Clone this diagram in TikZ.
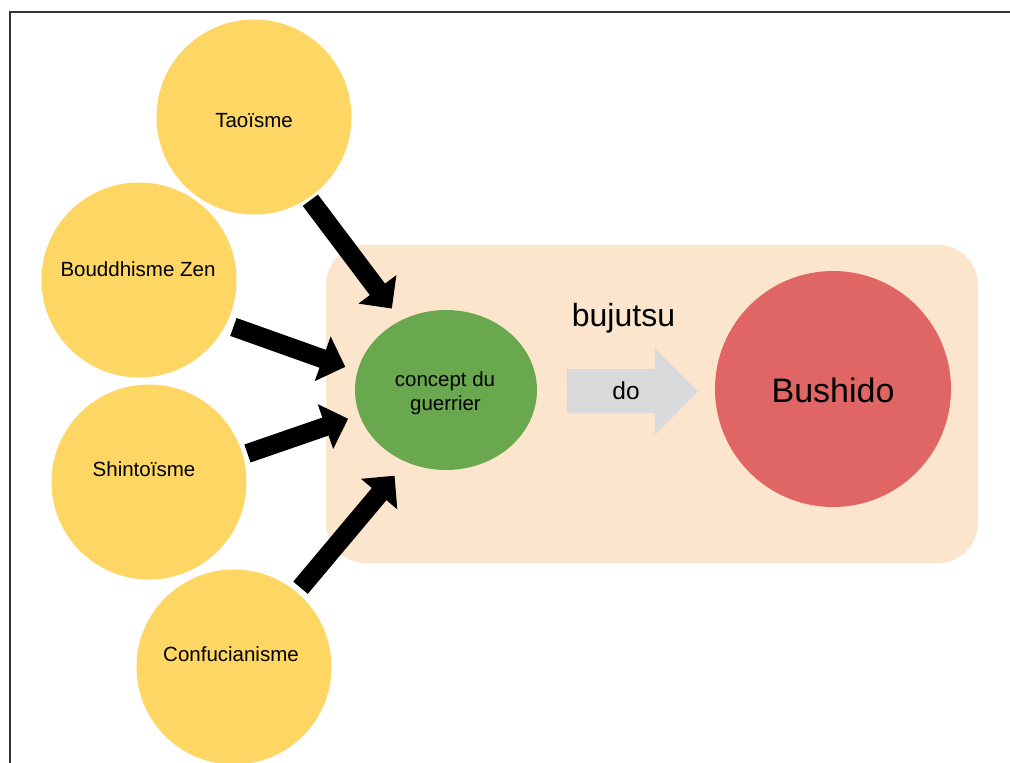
\documentclass[tikz,border=0pt]{standalone}
\usepackage{fontspec}
\setmainfont{Liberation Sans}
\usetikzlibrary{arrows.meta,shapes.geometric}
\definecolor{cyellow}{HTML}{FDD664}
\definecolor{cpeach}{HTML}{FCE5CD}
\definecolor{cgreen}{HTML}{6AA84F}
\definecolor{cred}{HTML}{E06666}
\definecolor{cgray}{HTML}{D9D9DA}
\definecolor{cframe}{HTML}{333333}
\tikzset{
  yball/.style={circle, fill=cyellow, minimum size=195pt, inner sep=0pt, outer sep=0pt},
  lbl/.style={anchor=base, inner sep=0pt, font=\fontsize{20.5pt}{24pt}\selectfont},
  fat/.style={line width=19pt, draw=black, -{Triangle[length=24pt,width=46pt]}},
}
\begin{document}
\begin{tikzpicture}[x=1pt,y=-1pt]
\useasboundingbox (0,0) rectangle (1010,763);
\fill[white] (0,0) rectangle (1010,763);
\draw[line width=2pt, cframe] (10,763) -- (10,12) -- (1010,12);
% background panel
\node[fill=cpeach, rounded corners=40pt, minimum width=652pt, minimum height=318pt, inner sep=0pt] (panel) at (652,404) {};
% yellow sources
\node[yball] (tao) at (254,117) {};
\node[yball] (bz) at (139,280) {};
\node[yball] (shin) at (149,482) {};
\node[yball] (conf) at (234,667) {};
\node[lbl] (taoL) at (254,127) {Taoïsme};
\node[lbl] (bzL) at (138,276) {Bouddhisme Zen};
\node[lbl] (shinL) at (144,476.7) {Shintoïsme};
\node[lbl] (confL) at (231,661) {Confucianisme};
% warrior concept
\node[ellipse, fill=cgreen, minimum width=182pt, minimum height=160pt, inner sep=0pt, outer sep=0pt] (guer) at (446,390) {};
\node[lbl] (guerL1) at (445,386.7) {concept du};
\node[lbl] (guerL2) at (445.5,410) {guerrier};
% Bushido
\node[circle, fill=cred, minimum size=236pt, inner sep=0pt, outer sep=0pt] (bush) at (833,389) {};
\node[anchor=base, inner sep=0pt, font=\fontsize{34pt}{40pt}\selectfont] (bushL) at (833,402.7) {Bushido};
% block arrow
\fill[cgray] (567,369) -- (655,369) -- (655,348) -- (698,391.5) -- (655,435) -- (655,413) -- (567,413) -- cycle;
\node[anchor=base, inner sep=0pt, font=\fontsize{24.5pt}{28pt}\selectfont] (doL) at (626,399.3) {do};
\node[anchor=base, inner sep=0pt, font=\fontsize{32pt}{36pt}\selectfont] (bujL) at (623.5,326.7) {bujutsu};
% black arrows
\draw[fat, shorten <=3pt, shorten >=15pt] (tao.-56) -- (guer.123);
\draw[fat, shorten <=8pt, shorten >=13pt] (bz.-27) -- (guer.168);
\draw[fat, shorten <=5pt, shorten >=12pt] (shin.16) -- (guer.196);
\draw[fat, shorten <=6pt, shorten >=18pt] (conf.50) -- (guer.241);
\end{tikzpicture}
\end{document}
